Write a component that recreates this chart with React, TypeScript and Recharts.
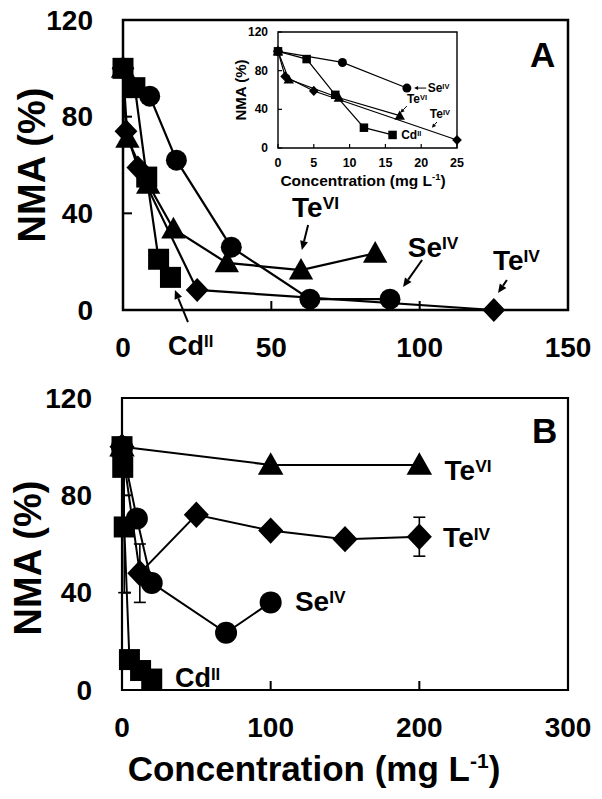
import React from 'react';
import {
  LineChart,
  Line,
  XAxis,
  YAxis,
  ReferenceArea,
  ReferenceLine,
  ReferenceDot,
  ErrorBar,
} from 'recharts';

const FONT = '"Liberation Sans", Arial, Helvetica, sans-serif';

// ---------- Panel A (main) ----------
const cdA = [
  { x: 0, y: 100 }, { x: 4, y: 92 }, { x: 8, y: 55 }, { x: 12, y: 21 }, { x: 16, y: 13.5 },
];
const seA = [
  { x: 0, y: 100 }, { x: 9, y: 88.5 }, { x: 18, y: 62 }, { x: 36.5, y: 26 }, { x: 63, y: 4.5 }, { x: 90, y: 4.5 },
];
const teVIA = [
  { x: 0, y: 100 }, { x: 1.5, y: 71 }, { x: 8.5, y: 52 }, { x: 17, y: 33.5 }, { x: 35, y: 19.5 }, { x: 60, y: 16.5 }, { x: 85, y: 23.5 },
];
const teIVA = [
  { x: 0, y: 100 }, { x: 1, y: 74 }, { x: 5, y: 59 }, { x: 25, y: 8.3 }, { x: 125, y: 0 },
];
const ticksAX = [0, 50, 100, 150];
const ticksY = [0, 40, 80, 120];

// inset shows the low-concentration part of panel A
const INSET_MAX = 25;
const ticksInsetX = [0, 5, 10, 15, 20, 25];

// ---------- Panel B ----------
const cdB = [
  { x: 0, y: 100 }, { x: 0.5, y: 91.5 }, { x: 1.5, y: 67, err: 27 }, { x: 5, y: 12.5 }, { x: 12.5, y: 8 }, { x: 20, y: 4.5 },
];
const seB = [
  { x: 0, y: 100 }, { x: 10, y: 70.5 }, { x: 20, y: 44 }, { x: 70, y: 23.5 }, { x: 100, y: 36 },
];
const teVIB = [
  { x: 0, y: 100 }, { x: 100, y: 92.5 }, { x: 200, y: 92.5 },
];
const teIVB = [
  { x: 0, y: 100 }, { x: 12, y: 48, err: 12 }, { x: 50, y: 72 }, { x: 100, y: 65.5 }, { x: 150, y: 62 }, { x: 200, y: 63, err: 8 },
];
const ticksBX = [0, 100, 200, 300];

// annotation labels (data coordinates)
const labelsA = [
  { x: 57, y: 38.5, main: 'Te', sup: 'VI', fs: 28 },
  { x: 96, y: 21.9, main: 'Se', sup: 'IV', fs: 28 },
  { x: 124.7, y: 16.5, main: 'Te', sup: 'IV', fs: 28 },
  { x: 15.2, y: -18.6, main: 'Cd', sup: 'II', fs: 27 },
];
const arrowsA = [
  [{ x: 62.4, y: 35.2 }, { x: 60.3, y: 24.8 }],
  [{ x: 100.8, y: 20.7 }, { x: 94.4, y: 9.5 }],
  [{ x: 129.4, y: 12.4 }, { x: 126.4, y: 7 }],
  [{ x: 21.9, y: -5 }, { x: 17.5, y: 8.3 }],
];
const labelsB = [
  { x: 217, y: 86.2, main: 'Te', sup: 'VI', fs: 28 },
  { x: 216, y: 58.6, main: 'Te', sup: 'IV', fs: 28 },
  { x: 116.3, y: 32.6, main: 'Se', sup: 'IV', fs: 28 },
  { x: 35.6, y: 1.2, main: 'Cd', sup: 'II', fs: 27 },
];
const labelsInset = [
  { x: 20.9, y: 57.9, main: 'Se', sup: 'IV', fs: 12 },
  { x: 18, y: 46.5, main: 'Te', sup: 'VI', fs: 12 },
  { x: 21.2, y: 31, main: 'Te', sup: 'IV', fs: 12 },
  { x: 17.2, y: 9.3, main: 'Cd', sup: 'II', fs: 12 },
];
const arrowsInset = [
  [{ x: 20.7, y: 62 }, { x: 19.0, y: 62 }],
  [{ x: 18, y: 43.4 }, { x: 17.1, y: 36.5 }],
  [{ x: 22.2, y: 26.9 }, { x: 21.5, y: 20.9 }],
];

type Kind = 'circle' | 'square' | 'triangle' | 'diamond';

const Marker = ({ cx, cy, kind, s }: { cx: number; cy: number; kind: Kind; s: number }) => {
  if (cx == null || cy == null || isNaN(cx) || isNaN(cy)) return null;
  if (kind === 'circle') return <circle cx={cx} cy={cy} r={s / 2} fill="#000" />;
  if (kind === 'square') return <rect x={cx - s / 2} y={cy - s / 2} width={s} height={s} fill="#000" />;
  if (kind === 'triangle')
    return (
      <polygon
        points={`${cx},${cy - s * 0.58} ${cx + s * 0.58},${cy + s * 0.45} ${cx - s * 0.58},${cy + s * 0.45}`}
        fill="#000"
      />
    );
  return (
    <polygon
      points={`${cx},${cy - s * 0.6} ${cx + s * 0.57},${cy} ${cx},${cy + s * 0.6} ${cx - s * 0.57},${cy}`}
      fill="#000"
    />
  );
};

const dotFn = (kind: Kind, s: number) => (p: any) => (
  <Marker key={`${kind}-${p.index}`} cx={p.cx} cy={p.cy} kind={kind} s={s} />
);

const SupLabel = ({ x, y, main, sup, fs }: any) => (
  <text x={x} y={y} fontFamily={FONT} fontWeight={700} fontSize={fs} fill="#000">
    {main}
    <tspan fontSize={fs * 0.62} dy={-fs * 0.28}>
      {sup}
    </tspan>
  </text>
);

const ArrowShape = ({ x1, y1, x2, y2, sw, head, hw }: any) => {
  const dx = x2 - x1;
  const dy = y2 - y1;
  const L = Math.hypot(dx, dy) || 1;
  const ux = dx / L;
  const uy = dy / L;
  const bx = x2 - ux * head;
  const by = y2 - uy * head;
  const px = -uy;
  const py = ux;
  return (
    <g>
      <line x1={x1} y1={y1} x2={bx} y2={by} stroke="#000" strokeWidth={sw} />
      <polygon points={`${x2},${y2} ${bx + px * hw},${by + py * hw} ${bx - px * hw},${by - py * hw}`} fill="#000" />
    </g>
  );
};

const makeXTick = (fs: number, off: number, len: number, sw: number) => (p: any) => (
  <g>
    <line x1={p.x} y1={p.y} x2={p.x} y2={p.y - len} stroke="#000" strokeWidth={sw} />
    <text
      x={p.x}
      y={p.y + off}
      textAnchor="middle"
      dominantBaseline="central"
      fontSize={fs}
      fontWeight={700}
      fontFamily={FONT}
      fill="#000"
    >
      {p.payload.value}
    </text>
  </g>
);

const makeYTick = (fs: number, off: number, len: number, sw: number) => (p: any) => (
  <g>
    <line x1={p.x} y1={p.y} x2={p.x + len} y2={p.y} stroke="#000" strokeWidth={sw} />
    <text
      x={p.x - off}
      y={p.y}
      textAnchor="end"
      dominantBaseline="central"
      fontSize={fs}
      fontWeight={700}
      fontFamily={FONT}
      fill="#000"
    >
      {p.payload.value}
    </text>
  </g>
);

const W = 602;

const PanelA = () => (
  <LineChart width={W} height={372} margin={{ top: 20, right: 34, left: 0, bottom: 0 }}>
    <XAxis
      type="number"
      dataKey="x"
      domain={[0, 150]}
      ticks={ticksAX}
      axisLine={false}
      tickLine={false}
      tickSize={0}
      tickMargin={0}
      height={62}
      interval={0}
      tick={makeXTick(28, 37, 9, 2)}
    />
    <YAxis
      type="number"
      dataKey="y"
      domain={[0, 120]}
      ticks={ticksY}
      axisLine={false}
      tickLine={false}
      tickSize={0}
      tickMargin={0}
      width={123}
      interval={0}
      tick={makeYTick(28, 30, 9, 2)}
    />
    <ReferenceArea x1={0} x2={150} y1={0} y2={120} fill="none" stroke="#000" strokeWidth={2.5} ifOverflow="visible" />
    <Line data={teIVA} dataKey="y" stroke="#000" strokeWidth={2.2} dot={dotFn('diamond', 20)} isAnimationActive={false} />
    <Line data={teVIA} dataKey="y" stroke="#000" strokeWidth={2.2} dot={dotFn('triangle', 21)} isAnimationActive={false} />
    <Line data={seA} dataKey="y" stroke="#000" strokeWidth={2.2} dot={dotFn('circle', 21)} isAnimationActive={false} />
    <Line data={cdA} dataKey="y" stroke="#000" strokeWidth={2.2} dot={dotFn('square', 21)} isAnimationActive={false} />
    {arrowsA.map((seg, i) => (
      <ReferenceLine
        key={`aa${i}`}
        segment={seg}
        ifOverflow="visible"
        shape={(p: any) => <ArrowShape {...p} sw={2} head={9} hw={4} />}
      />
    ))}
    {labelsA.map((l, i) => (
      <ReferenceDot
        key={`la${i}`}
        x={l.x}
        y={l.y}
        ifOverflow="visible"
        shape={(p: any) => <SupLabel x={p.cx} y={p.cy} main={l.main} sup={l.sup} fs={l.fs} />}
      />
    ))}
  </LineChart>
);

const inset = (arr: { x: number; y: number }[]) => arr.filter((d) => d.x <= INSET_MAX);

const Inset = () => (
  <LineChart width={240} height={170} margin={{ top: 6, right: 11, left: 0, bottom: 0 }}>
    <XAxis
      type="number"
      dataKey="x"
      domain={[0, 25]}
      ticks={ticksInsetX}
      axisLine={false}
      tickLine={false}
      tickSize={0}
      tickMargin={0}
      height={48}
      interval={0}
      tick={makeXTick(12.5, 15, 4, 1.2)}
    />
    <YAxis
      type="number"
      dataKey="y"
      domain={[0, 120]}
      ticks={ticksY}
      axisLine={false}
      tickLine={false}
      tickSize={0}
      tickMargin={0}
      width={50}
      interval={0}
      tick={makeYTick(12, 10, 4, 1.2)}
    />
    <ReferenceArea x1={0} x2={25} y1={0} y2={120} fill="#fff" stroke="#000" strokeWidth={1.4} ifOverflow="visible" />
    <Line data={inset(teIVA)} dataKey="y" stroke="#000" strokeWidth={1.2} dot={dotFn('diamond', 8.5)} isAnimationActive={false} />
    <Line data={inset(teVIA)} dataKey="y" stroke="#000" strokeWidth={1.2} dot={dotFn('triangle', 9)} isAnimationActive={false} />
    <Line data={inset(seA)} dataKey="y" stroke="#000" strokeWidth={1.2} dot={dotFn('circle', 9)} isAnimationActive={false} />
    <Line data={inset(cdA)} dataKey="y" stroke="#000" strokeWidth={1.2} dot={dotFn('square', 8.5)} isAnimationActive={false} />
    {arrowsInset.map((seg, i) => (
      <ReferenceLine
        key={`ai${i}`}
        segment={seg}
        ifOverflow="visible"
        shape={(p: any) => <ArrowShape {...p} sw={1} head={4} hw={2} />}
      />
    ))}
    {labelsInset.map((l, i) => (
      <ReferenceDot
        key={`li${i}`}
        x={l.x}
        y={l.y}
        ifOverflow="visible"
        shape={(p: any) => <SupLabel x={p.cx} y={p.cy} main={l.main} sup={l.sup} fs={l.fs} />}
      />
    ))}
  </LineChart>
);

const PanelB = () => (
  <LineChart width={W} height={372} margin={{ top: 20, right: 34, left: 0, bottom: 0 }}>
    <XAxis
      type="number"
      dataKey="x"
      domain={[0, 300]}
      ticks={ticksBX}
      axisLine={false}
      tickLine={false}
      tickSize={0}
      tickMargin={0}
      height={60}
      interval={0}
      tick={makeXTick(28, 37, 9, 2)}
    />
    <YAxis
      type="number"
      dataKey="y"
      domain={[0, 120]}
      ticks={ticksY}
      axisLine={false}
      tickLine={false}
      tickSize={0}
      tickMargin={0}
      width={122}
      interval={0}
      tick={makeYTick(28, 30, 9, 2)}
    />
    <ReferenceArea x1={0} x2={300} y1={0} y2={120} fill="none" stroke="#000" strokeWidth={2.2} ifOverflow="visible" />
    <Line data={teVIB} dataKey="y" stroke="#000" strokeWidth={2} dot={dotFn('triangle', 22)} isAnimationActive={false} />
    <Line data={teIVB} dataKey="y" stroke="#000" strokeWidth={2} dot={dotFn('diamond', 22)} isAnimationActive={false}>
      <ErrorBar dataKey="err" direction="y" width={6} stroke="#000" strokeWidth={1.6} />
    </Line>
    <Line data={seB} dataKey="y" stroke="#000" strokeWidth={2} dot={dotFn('circle', 22)} isAnimationActive={false} />
    <Line data={cdB} dataKey="y" stroke="#000" strokeWidth={2} dot={dotFn('square', 21)} isAnimationActive={false}>
      <ErrorBar dataKey="err" direction="y" width={6} stroke="#000" strokeWidth={1.6} />
    </Line>
    {labelsB.map((l, i) => (
      <ReferenceDot
        key={`lb${i}`}
        x={l.x}
        y={l.y}
        ifOverflow="visible"
        shape={(p: any) => <SupLabel x={p.cx} y={p.cy} main={l.main} sup={l.sup} fs={l.fs} />}
      />
    ))}
  </LineChart>
);

const Titles = () => (
  <svg width={W} height={799} style={{ position: 'absolute', left: 0, top: 0, pointerEvents: 'none' }}>
    <g fontFamily={FONT} fontWeight={700} fill="#000">
      <text x={32} y={165} fontSize={38} textAnchor="middle" dominantBaseline="central" transform="rotate(-90 32 165)">
        NMA (%)
      </text>
      <text x={28} y={558} fontSize={38} textAnchor="middle" dominantBaseline="central" transform="rotate(-90 28 558)">
        NMA (%)
      </text>
      <text x={314} y={781} fontSize={35} textAnchor="middle">
        Concentration (mg L<tspan fontSize={21} dy={-13}>-1</tspan>
        <tspan dy={13}>)</tspan>
      </text>
      <text x={530} y={67} fontSize={35}>A</text>
      <text x={532} y={443} fontSize={35}>B</text>
      <text x={240} y={90} fontSize={15} textAnchor="middle" dominantBaseline="central" transform="rotate(-90 240 90)">
        NMA (%)
      </text>
      <text x={363} y={186} fontSize={15.5} textAnchor="middle">
        Concentration (mg L<tspan fontSize={9.5} dy={-6}>-1</tspan>
        <tspan dy={6}>)</tspan>
      </text>
    </g>
  </svg>
);

export default function App() {
  return (
    <div style={{ position: 'absolute', left: 0, top: 0, width: W, height: 799, background: '#fff' }}>
      <div style={{ position: 'absolute', left: 0, top: 0 }}>
        <PanelA />
      </div>
      <div style={{ position: 'absolute', left: 0, top: 378 }}>
        <PanelB />
      </div>
      <div style={{ position: 'absolute', left: 228, top: 26 }}>
        <Inset />
      </div>
      <Titles />
    </div>
  );
}
